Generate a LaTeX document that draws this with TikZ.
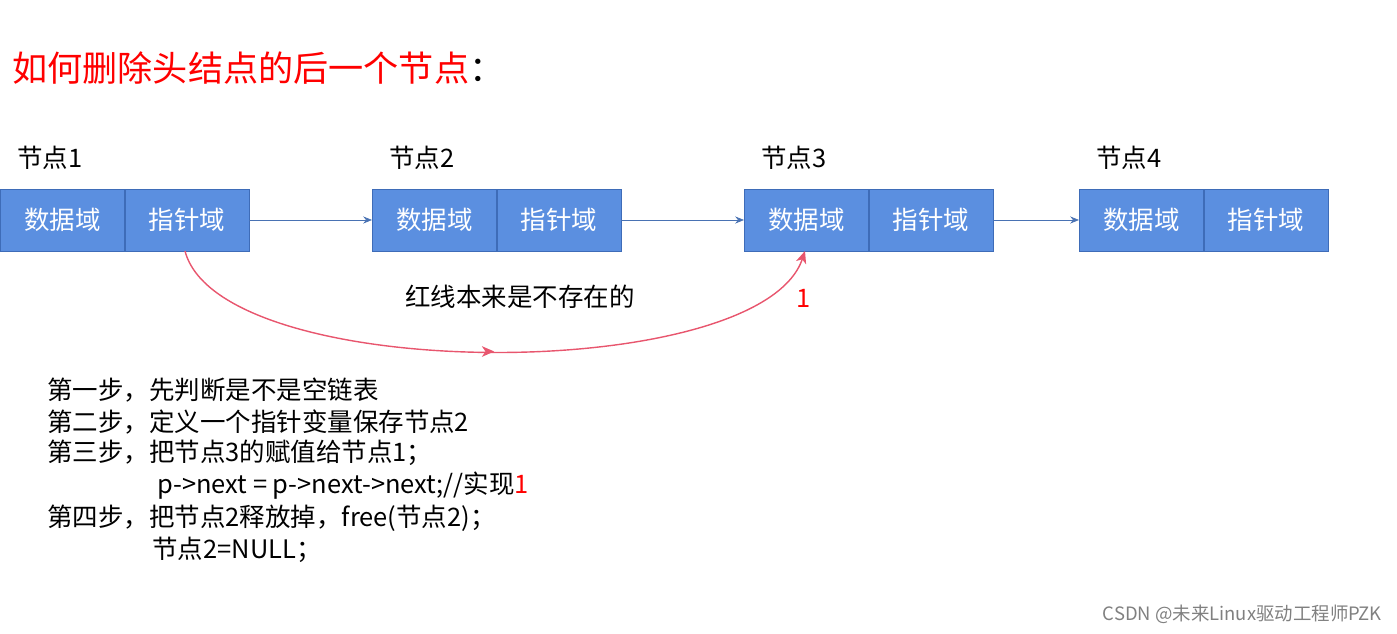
\documentclass[tikz,border=0pt]{standalone}
\usepackage{fontspec}
\setmainfont{Noto Sans CJK SC}
\usetikzlibrary{arrows.meta,positioning,decorations.markings}
\definecolor{boxblue}{HTML}{5B8FE0}
\definecolor{boxline}{HTML}{3E6CB8}
\definecolor{curvered}{HTML}{E8566E}
\tikzset{
	cell/.style={draw=boxline,fill=boxblue,text=white,minimum width=2.48cm,minimum height=1.24cm,inner sep=0pt,font=\fontsize{14.5}{16}\selectfont},
	lbl/.style={anchor=west,inner sep=0pt,font=\fontsize{14.5}{16}\selectfont},
	link/.style={-{Stealth[length=5pt,width=4pt]},boxblue!80!black,thin}
}
\begin{document}
\begin{tikzpicture}[x=0.02cm,y=-0.02cm]
		\useasboundingbox (0,0) rectangle (1397,634);
		\node [anchor=west,inner sep=0pt,font=\fontsize{20}{22}\selectfont] (title) at (12,68) {\textcolor{red}{如何删除头结点的后一个节点}：};
		
		\foreach \i/\x in {1/0,2/372,3/744,4/1079} {
			\node [cell,anchor=west] (d\i) at (\x,220) {数据域};
			\node [cell,right=0pt of d\i] (p\i) {指针域};
			\node [lbl] (n\i) at (\x+17,158) {节点\i};
		}
		\draw[link] (p1) -- (d2);
		\draw[link] (p2) -- (d3);
		\draw[link] (p3) -- (d4);
		
		\coordinate (s) at (185,251);
		\coordinate (e) at (805,251);
		\draw[curvered,thick,-{Stealth[length=7pt,width=6pt,inset=2pt]},
			postaction={decorate},
			decoration={markings,mark=at position 0.5 with {\arrow{Stealth[length=7pt,width=6pt,inset=2pt]}}}]
			(s) .. controls (220,385) and (760,385) .. (e);
		\node [lbl] (note) at (405,297) {红线本来是不存在的};
		\node [lbl,text=red] (one) at (796,298) {1};
		
		\foreach \y/\t in {390/第一步，先判断是不是空链表,422/第二步，定义一个指针变量保存节点2,453/第三步，把节点3的赋值给节点1；,518/第四步，把节点2释放掉，free(节点2)；}
		\node [lbl] at (47,\y) {\t};
		\node [lbl] (code) at (157,486) {p->next = p->next->next;//实现\textcolor{red}{1}};
		\node [lbl] (null) at (152,550) {节点2=NULL；};
		
		\node [anchor=east,inner sep=0pt,text=gray,font=\fontsize{10.5}{12}\selectfont] (mark) at (1382,614) {CSDN @未来Linux驱动工程师PZK};
	\end{tikzpicture}
\end{document}
